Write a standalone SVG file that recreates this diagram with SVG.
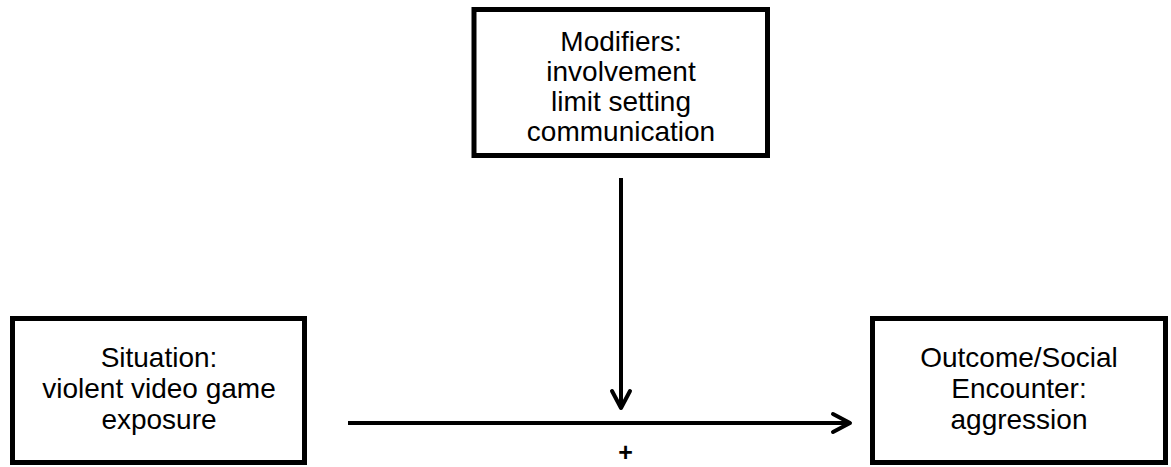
<svg xmlns="http://www.w3.org/2000/svg" width="1171" height="467" viewBox="0 0 1171 467">
<style>
.box{fill:#fff;stroke:#000;stroke-width:5}
.t{font-family:"Liberation Sans",Arial,sans-serif;font-size:28px;fill:#000;text-anchor:middle}
.c{stroke:#000;stroke-width:4;fill:none}
.h{stroke:#000;stroke-width:4;fill:none;stroke-linecap:round;stroke-linejoin:round}
</style>
<rect width="1171" height="467" fill="#fff"/>
<g id="modifiers">
<rect class="box" x="474" y="9.5" width="293.5" height="146"/>
<text class="t" x="621" y="51">Modifiers:</text>
<text class="t" x="621" y="81">involvement</text>
<text class="t" x="621" y="111">limit setting</text>
<text class="t" x="621" y="141">communication</text>
</g>
<g id="situation">
<rect class="box" x="12.5" y="318.5" width="292" height="144"/>
<text class="t" x="159" y="367">Situation:</text>
<text class="t" x="159" y="398">violent video game</text>
<text class="t" x="159" y="429">exposure</text>
</g>
<g id="outcome">
<rect class="box" x="872.5" y="318.5" width="293" height="144"/>
<text class="t" x="1019" y="367">Outcome/Social</text>
<text class="t" x="1019" y="398">Encounter:</text>
<text class="t" x="1019" y="429">aggression</text>
</g>
<g id="connectors">
<line class="c" x1="348" y1="423" x2="848" y2="423"/>
<polyline class="h" points="833,414 850,423 833,432"/>
<line class="c" x1="621" y1="178" x2="621" y2="406"/>
<polyline class="h" points="612,391 621,408 630,391"/>
<text x="625.5" y="461" font-family="'Liberation Sans',Arial,sans-serif" font-size="25" font-weight="bold" text-anchor="middle">+</text>
</g>
</svg>
